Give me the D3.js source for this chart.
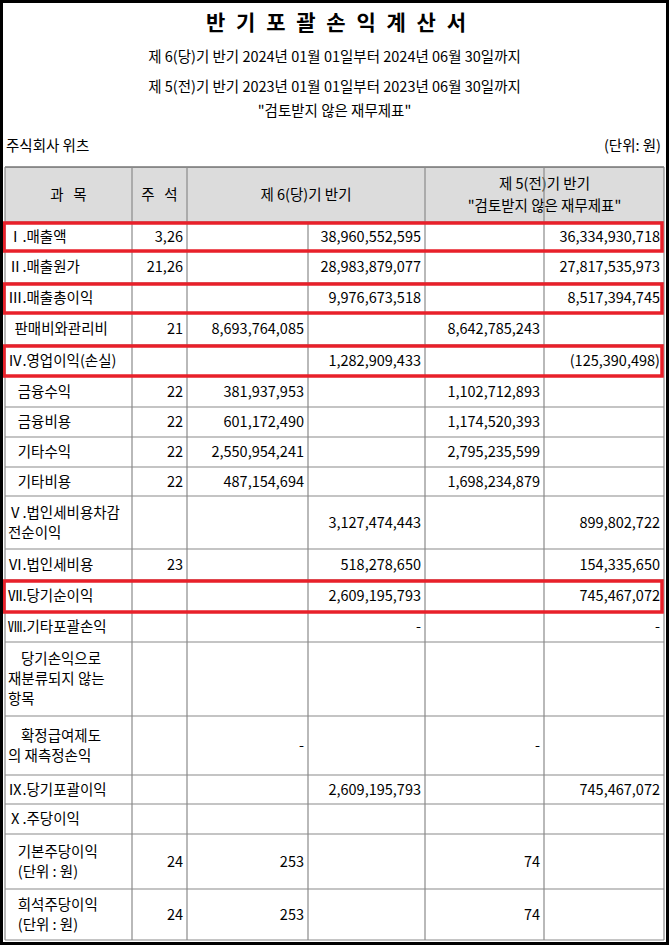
<!DOCTYPE html>
<html><head><meta charset="utf-8">
<script src="https://cdn.jsdelivr.net/npm/d3@7"></script>
<style>body{margin:0;background:#fff}</style>
</head><body><div id="chart"></div>
<script>
// 데이터
const titles = ['반 기 포 괄 손 익 계 산 서',
  '제 6(당)기 반기 2024년 01월 01일부터 2024년 06월 30일까지',
  '제 5(전)기 반기 2023년 01월 01일부터 2023년 06월 30일까지',
  '"검토받지 않은 재무제표"'];
const labels = [['Ⅰ.매출액'], ['Ⅱ.매출원가'], ['Ⅲ.매출총이익'], ['  판매비와관리비'], ['Ⅳ.영업이익(손실)'],
  ['   금융수익'], ['   금융비용'], ['   기타수익'], ['   기타비용'], ['Ⅴ.법인세비용차감', '전순이익'],
  ['Ⅵ.법인세비용'], ['Ⅶ.당기순이익'], ['Ⅷ.기타포괄손익'], ['    당기손익으로', '재분류되지 않는', '항목'],
  ['    확정급여제도', '의 재측정손익'], ['Ⅸ.당기포괄이익'], ['Ⅹ.주당이익'], ['   기본주당이익', '   (단위 : 원)'],
  ['   희석주당이익', '   (단위 : 원)']];
const notes = ['3,26', '21,26', '', '21', '', '22', '22', '22', '22', '', '23', '', '', '', '', '', '', '24', '24'];
const curSub = ['', '', '', '8,693,764,085', '', '381,937,953', '601,172,490', '2,550,954,241', '487,154,694', '', '', '', '', '', '-', '', '', '253', '253'];
const curTot = ['38,960,552,595', '28,983,879,077', '9,976,673,518', '', '1,282,909,433', '', '', '', '', '3,127,474,443', '518,278,650', '2,609,195,793', '-', '', '', '2,609,195,793', '', '', ''];
const prevSub = ['', '', '', '8,642,785,243', '', '1,102,712,893', '1,174,520,393', '2,795,235,599', '1,698,234,879', '', '', '', '', '', '-', '', '', '74', '74'];
const prevTot = ['36,334,930,718', '27,817,535,973', '8,517,394,745', '', '(125,390,498)', '', '', '', '', '899,802,722', '154,335,650', '745,467,072', '-', '', '', '745,467,072', '', '', ''];
const highlighted = [0, 2, 4, 11];

// 레이아웃
const W = 669, H = 945;
const colX = [5, 132, 187, 308, 425, 544, 664];
const rowY = [222, 251, 283, 313, 345, 376, 407, 437, 467, 496, 549, 580, 612, 642, 716, 775, 804, 834, 889, 940];
const font = '"Noto Sans CJK KR", "DejaVu Sans", sans-serif';
const grid = '#8a8a8a';

const svg = d3.select('#chart').append('svg').attr('width', W).attr('height', H)
  .style('font-family', font);

svg.append('rect').attr('width', W).attr('height', H).attr('fill', '#fff');

// 제목
svg.append('text').attr('x', W / 2 + 3).attr('y', 30).attr('text-anchor', 'middle')
  .style('font-size', '21px').style('font-weight', 'bold').style('letter-spacing', '3px').text(titles[0]);
[62, 92, 116].forEach((y, i) => {
  svg.append('text').attr('x', W / 2).attr('y', y).attr('text-anchor', 'middle')
    .style('font-size', '14.5px').text(titles[i + 1]);
});
svg.append('text').attr('x', 6).attr('y', 151).style('font-size', '14.5px').text('주식회사 위츠');
svg.append('text').attr('x', 661).attr('y', 151).attr('text-anchor', 'end').style('font-size', '14.5px').text('(단위: 원)');

// 헤더
const hTop = 167, hBot = rowY[0];
svg.append('rect').attr('x', colX[0]).attr('y', hTop).attr('width', colX[6] - colX[0]).attr('height', hBot - hTop)
  .attr('fill', '#dcdcdc');
const hd = svg.append('g').style('font-size', '14.5px').attr('text-anchor', 'middle');
hd.append('text').attr('x', (colX[0] + colX[1]) / 2).attr('y', 200).attr('xml:space', 'preserve').style('white-space', 'pre').text('과   목');
hd.append('text').attr('x', (colX[1] + colX[2]) / 2).attr('y', 200).attr('xml:space', 'preserve').style('white-space', 'pre').text('주   석');
hd.append('text').attr('x', (colX[2] + colX[4]) / 2).attr('y', 200).text('제 6(당)기 반기');
hd.append('text').attr('x', (colX[4] + colX[6]) / 2).attr('y', 189).text('제 5(전)기 반기');
hd.append('text').attr('x', (colX[4] + colX[6]) / 2).attr('y', 211).text('"검토받지 않은 재무제표"');

// 격자선
const lines = svg.append('g').attr('stroke', grid).attr('stroke-width', 1.2);
lines.append('line').attr('x1', colX[0]).attr('x2', colX[6]).attr('y1', hTop).attr('y2', hTop).attr('stroke', '#333');
rowY.forEach(y => lines.append('line').attr('x1', colX[0]).attr('x2', colX[6]).attr('y1', y).attr('y2', y));
[1, 2, 4, 5].forEach(i => lines.append('line').attr('x1', colX[i]).attr('x2', colX[i]).attr('y1', hTop).attr('y2', rowY[rowY.length - 1]));
lines.append('line').attr('x1', colX[3]).attr('x2', colX[3]).attr('y1', hBot).attr('y2', rowY[rowY.length - 1]);
lines.append('line').attr('x1', colX[0]).attr('x2', colX[0]).attr('y1', hTop).attr('y2', rowY[rowY.length - 1]);
lines.append('line').attr('x1', colX[6]).attr('x2', colX[6]).attr('y1', hTop).attr('y2', rowY[rowY.length - 1]);

// 본문
const body = svg.append('g').style('font-size', '14.5px');
labels.forEach((lab, i) => {
  const y0 = rowY[i], y1 = rowY[i + 1], mid = (y0 + y1) / 2;
  const lh = 20;
  const first = mid - (lab.length - 1) * lh / 2 + 5;
  lab.forEach((t, k) => {
    body.append('text').attr('x', colX[0] + 3).attr('y', first + k * lh)
      .attr('xml:space', 'preserve').style('white-space', 'pre').text(t);
  });
  const cells = [[notes[i], colX[2]], [curSub[i], colX[3]], [curTot[i], colX[4]], [prevSub[i], colX[5]], [prevTot[i], colX[6]]];
  cells.forEach(([v, xr]) => {
    if (!v) return;
    body.append('text').attr('x', xr - 4).attr('y', mid + 5).attr('text-anchor', 'end').text(v);
  });
});

// 강조 상자
highlighted.forEach(i => {
  svg.append('rect').attr('x', 4).attr('y', rowY[i] + 1).attr('width', 658).attr('height', rowY[i + 1] - rowY[i] - 1)
    .attr('fill', 'none').attr('stroke', '#e8202a').attr('stroke-width', 3.5);
});

// 외곽 테두리
svg.append('rect').attr('x', 1.5).attr('y', 1.5).attr('width', W - 3).attr('height', H - 3)
  .attr('fill', 'none').attr('stroke', '#000').attr('stroke-width', 3);
</script></body></html>
